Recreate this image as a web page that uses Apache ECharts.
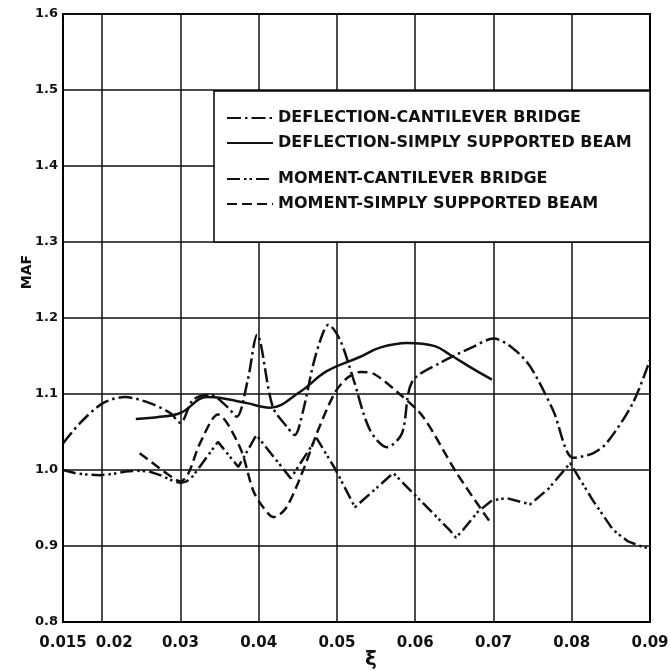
<!DOCTYPE html>
<html>
<head>
<meta charset="utf-8">
<script src="https://cdn.jsdelivr.net/npm/echarts@6/dist/echarts.min.js"></script>
<style>
html,body{margin:0;padding:0;background:#fff;}
#main{width:671px;height:671px;}
</style>
</head>
<body>
<div id="main"></div>
<script>
// tick values
const xTicks = [0.015, 0.02, 0.03, 0.04, 0.05, 0.06, 0.07, 0.08, 0.09];
const xGridLines = [0.02, 0.03, 0.04, 0.05, 0.06, 0.07, 0.08];

const names = [
	'DEFLECTION-CANTILEVER BRIDGE',
	'DEFLECTION-SIMPLY SUPPORTED BEAM',
	'MOMENT-CANTILEVER BRIDGE',
	'MOMENT-SIMPLY SUPPORTED BEAM'
];

// deflection - cantilever bridge (dash dot)
const defCantX = [0.015,0.0172,0.0201,0.0229,0.0261,0.0287,0.030,0.0316,0.0338,0.036,0.0372,0.0386,0.0398,0.0418,0.0436,0.0446,0.0457,0.047,0.0482,0.0489,0.0504,0.052,0.0542,0.0564,0.0583,0.0596,0.0632,0.0674,0.070,0.0725,0.0747,0.0776,0.0802,0.0827,0.0845,0.0878,0.090];
const defCantY = [1.035,1.062,1.088,1.096,1.088,1.075,1.062,1.092,1.099,1.083,1.07,1.118,1.178,1.083,1.057,1.046,1.079,1.14,1.18,1.191,1.171,1.123,1.053,1.03,1.048,1.116,1.141,1.162,1.173,1.16,1.136,1.079,1.016,1.022,1.036,1.088,1.145];

// deflection - simply supported beam (solid)
const defSimpX = [0.0243,0.0274,0.030,0.0334,0.035,0.0385,0.0414,0.0453,0.0487,0.053,0.0555,0.059,0.0625,0.0644,0.0674,0.0698];
const defSimpY = [1.067,1.07,1.075,1.096,1.095,1.088,1.082,1.103,1.13,1.149,1.161,1.167,1.163,1.152,1.133,1.119];

// moment - cantilever bridge (dash dot dot)
const momCantX = [0.015,0.0165,0.018,0.0197,0.0215,0.023,0.0245,0.026,0.0275,0.029,0.030,0.0308,0.0316,0.0348,0.0374,0.0397,0.0441,0.0474,0.0498,0.0523,0.0572,0.0644,0.0652,0.0661,0.068,0.0698,0.0717,0.0735,0.0747,0.077,0.0798,0.0827,0.0853,0.0872,0.089,0.090];
const momCantY = [1.0,0.996,0.994,0.993,0.995,0.998,0.999,0.998,0.993,0.986,0.983,0.985,0.992,1.037,1.004,1.046,0.989,1.042,1.001,0.951,0.996,0.921,0.911,0.921,0.945,0.96,0.963,0.958,0.955,0.975,1.009,0.96,0.921,0.906,0.899,0.897];

// moment - simply supported beam (dashed)
const momSimpX = [0.0248,0.027,0.029,0.030,0.031,0.0325,0.0348,0.0376,0.0393,0.0405,0.0419,0.0435,0.0457,0.0475,0.0497,0.0513,0.053,0.0548,0.058,0.061,0.0653,0.0696];
const momSimpY = [1.022,1.005,0.99,0.985,0.995,1.035,1.073,1.03,0.973,0.952,0.938,0.95,1.0,1.05,1.101,1.121,1.129,1.126,1.1,1.07,0.996,0.931];

function pairs(xs, ys){
	let out = [];
	for(let i=0;i<xs.length;i++) out.push([xs[i], ys[i]]);
	return out;
}

const FONT = 'DejaVu Sans';
const INK = '#111';

let chart = echarts.init(document.getElementById('main'), null, {renderer:'canvas'});

function lineSeries(name, xs, ys, dash, smooth){
	return {
		name: name,
		type: 'line',
		data: pairs(xs, ys),
		symbol: 'none',
		smooth: smooth,
		lineStyle: {color: INK, width: 2.5, type: dash},
		itemStyle: {color: INK},
		z: 3
	};
}

let series = [
	lineSeries(names[0], defCantX, defCantY, [14,4,2.5,4], 0.3),
	lineSeries(names[1], defSimpX, defSimpY, 'solid', 0.4),
	lineSeries(names[2], momCantX, momCantY, [13,4,2.5,3,2.5,4], false),
	lineSeries(names[3], momSimpX, momSimpY, [10,5], 0.3)
];

// vertical grid lines
series[0].markLine = {
	silent: true,
	symbol: ['none','none'],
	label: {show: false},
	lineStyle: {color: INK, width: 1.5, type: 'solid'},
	data: xGridLines.map(v => ({xAxis: v})),
	z: 1
};

let legendText = {fontFamily: FONT, fontSize: 16, fontWeight: 'bold', color: INK};
let legendBase = {orient: 'vertical', left: 226, itemWidth: 46, itemHeight: 14, itemGap: 9, padding: 0,
	textStyle: legendText, itemStyle: {opacity: 0}, z: 60};

let xLabelFont = {fontFamily: FONT, fontSize: 15, fontWeight: 'bold', color: INK};

let option = {
	animation: false,
	backgroundColor: '#fff',
	grid: {left: 63, right: 21, top: 14, bottom: 49, show: true, borderColor: '#000', borderWidth: 2, outerBoundsMode: 'none'},
	legend: [
		Object.assign({data: [names[0], names[1]], top: 110}, legendBase),
		Object.assign({data: [names[2], names[3]], top: 171}, legendBase)
	],
	xAxis: {
		type: 'value', min: 0.015, max: 0.09, interval: 0.005,
		axisLine: {show: true, lineStyle: {color: '#000', width: 2}},
		axisTick: {show: false},
		splitLine: {show: false},
		axisLabel: Object.assign({
			customValues: xTicks,
			showMinLabel: true, showMaxLabel: true, hideOverlap: false,
			formatter: function(v){
				let s = String(+v.toFixed(3));
				// the 0.02 label sits right of its line to clear 0.015
				return s === '0.02' ? '{sh|' + s + '}' : s;
			},
			rich: {sh: Object.assign({padding: [0, 0, 0, 24]}, xLabelFont)},
			margin: 14
		}, xLabelFont)
	},
	yAxis: {
		type: 'value', min: 0.8, max: 1.6, interval: 0.1,
		axisLine: {show: true, lineStyle: {color: '#000', width: 2}},
		axisTick: {show: false},
		splitLine: {show: true, lineStyle: {color: INK, width: 1.5}},
		axisLabel: {
			formatter: v => v.toFixed(1),
			fontFamily: FONT, fontSize: 13, fontWeight: 'bold', color: INK, margin: 5
		}
	},
	graphic: [
		{type: 'rect', shape: {x: 214, y: 91, width: 436, height: 151}, style: {fill: '#fff', stroke: '#000', lineWidth: 1.5}, z: 50},
		{type: 'text', x: 27, y: 272, rotation: Math.PI/2, style: {text: 'MAF', font: 'bold 14px "DejaVu Sans"', fill: INK, textAlign: 'center', textVerticalAlign: 'middle'}, z: 50},
		{type: 'text', x: 371, y: 660, style: {text: 'ξ', font: 'bold 20px "DejaVu Sans"', fill: INK, textAlign: 'center', textVerticalAlign: 'middle'}, z: 50}
	],
	series: series
};

chart.setOption(option);
</script>
</body>
</html>
